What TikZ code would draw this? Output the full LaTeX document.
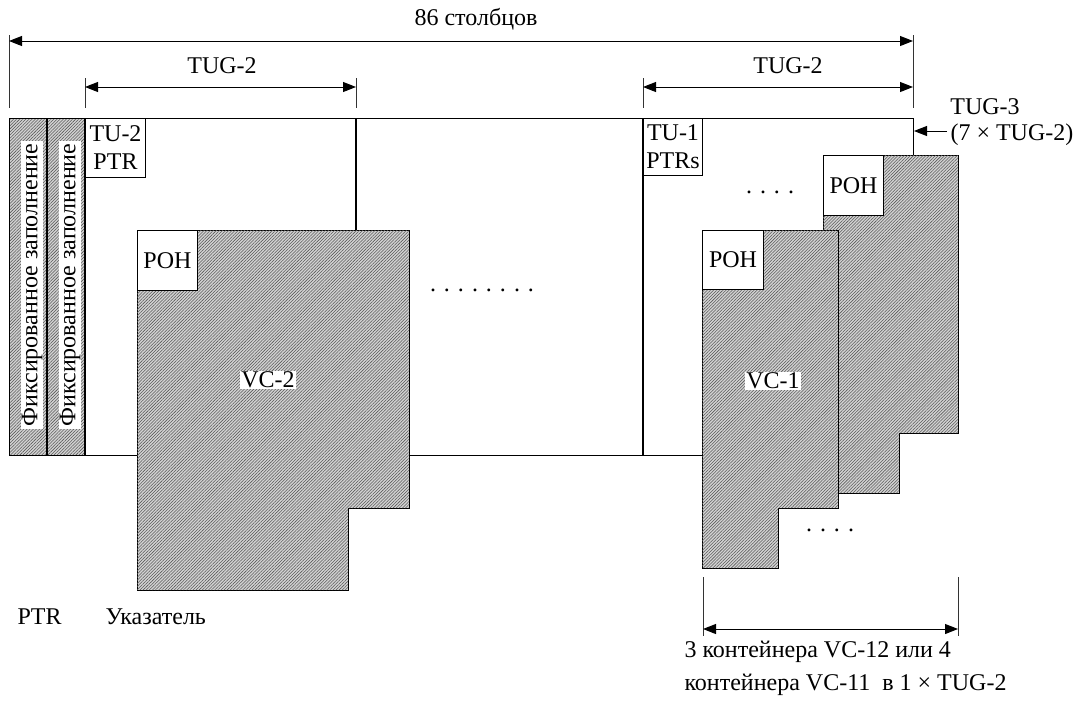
\documentclass[tikz,border=0pt]{standalone}
\usepackage{fontspec}
\setmainfont{Liberation Serif}
\usetikzlibrary{arrows.meta,patterns.meta}
\newcommand{\picfont}{\fontsize{24}{28}\selectfont}
\tikzset{
  hatch/.style={fill=gray!35, postaction={pattern={Lines[angle=45,distance=2.2pt,line width=0.55pt]}, pattern color=black!65}},
  divider/.style={line width=2pt},
  tick/.style={line width=0.8pt, gray!40!black},
  dim/.style={{Triangle[length=13pt,width=10pt]}-{Triangle[length=13pt,width=10pt]}, line width=1pt},
  arr/.style={-{Triangle[length=13pt,width=10pt]}, line width=1pt}
}
\begin{document}
\begin{tikzpicture}[x=1pt,y=-1pt,line width=1pt,every node/.style={font=\picfont}]
    \useasboundingbox (0,0) rectangle (1082,702);
    % fixed stuff columns
    \path[hatch] (9,118) rectangle (47,455);
    \path[hatch] (47,118) rectangle (85,455);
    \draw (702,455) -- (9,455) -- (9,118) -- (913,118) -- (913,155);
    \draw[divider] (47,118) -- (47,455);
    \draw[divider] (85,118) -- (85,455);
    \draw[divider] (356,118) -- (356,230);
    \draw[divider] (643,118) -- (643,455);
    \begin{scope}[every node/.style={font=\picfont,fill=white,rotate=90,inner xsep=3pt,inner ysep=1pt}]
        \node (fix1) at (32,285) {Фиксированное заполнение};
        \node (fix2) at (70,285) {Фиксированное заполнение};
    \end{scope}
    % containers
    \draw[hatch] (823,155) -- (958,155) -- (958,433) -- (899,433) -- (899,493) -- (823,493) -- cycle;
    \draw[hatch] (702,230) -- (838,230) -- (838,508) -- (778,508) -- (778,568) -- (702,568) -- cycle;
    \draw[hatch] (137,230) -- (409,230) -- (409,508) -- (348,508) -- (348,590) -- (137,590) -- cycle;
    \begin{scope}[every node/.style={font=\picfont,draw,fill=white,anchor=north west,align=center,inner sep=0pt}]
        \node[minimum width=60pt,minimum height=59pt] (tu2) at (85,118) {TU-2\\PTR};
        \node[minimum width=59pt,minimum height=57pt] (tu1) at (643,118) {TU-1\\PTRs};
        \node[minimum width=60pt,minimum height=60pt] (poh2) at (137,230) {POH};
        \node[minimum width=60pt,minimum height=60pt] (pohb) at (823,155) {POH};
        \node[minimum width=61pt,minimum height=59pt] (pohf) at (702,230) {POH};
    \end{scope}
    \begin{scope}[every node/.style={font=\picfont,fill=white,inner sep=1pt}]
        \node (vc2) at (268,380) {VC-2};
        \node (vc1) at (773,381) {VC-1};
    \end{scope}
    \node (dotsm) at (482,290) {. . . . . . . .};
    \node (dotsu) at (770,192) {. . . .};
    \node (dotsl) at (830,530) {. . . .};
    % dimensions
    \draw[tick] (9,35) -- (9,108);
    \draw[tick] (913,35) -- (913,108);
    \draw[tick] (85,78) -- (85,108);
    \draw[tick] (356,78) -- (356,108);
    \draw[tick] (643,78) -- (643,108);
    \draw[tick] (703,577) -- (703,636);
    \draw[tick] (958,577) -- (958,636);
    \coordinate (c86l) at (9,41);
    \coordinate (c86r) at (913,41);
    \coordinate (tug2la) at (85,87);
    \coordinate (tug2lb) at (356,87);
    \coordinate (tug2ra) at (643,87);
    \coordinate (tug2rb) at (913,87);
    \coordinate (vcla) at (703,629);
    \coordinate (vclb) at (958,629);
    \coordinate (tug3tail) at (947,131);
    \coordinate (tug3tip) at (914,131);
    \draw[dim] (c86l) -- (c86r);
    \draw[dim] (tug2la) -- (tug2lb);
    \draw[dim] (tug2ra) -- (tug2rb);
    \draw[dim] (vcla) -- (vclb);
    \draw[arr] (tug3tail) -- (tug3tip);
    \begin{scope}[every node/.style={font=\picfont,anchor=base,inner sep=0pt}]
        \node (cols) at (476,25) {86 столбцов};
        \node (tug2l) at (222,73) {TUG-2};
        \node (tug2r) at (788,73) {TUG-2};
        \node (tug3) at (985,114) {TUG-3};
        \node[anchor=base west] (tug3n) at (950,140) {(7 × TUG-2)};
        \node[anchor=base west] (ptr) at (17,624) {PTR};
        \node[anchor=base west] (ptrtxt) at (105,624) {Указатель};
        \node[anchor=base west] (vcnote1) at (684,657) {3 контейнера VC-12 или 4};
        \node[anchor=base west] (vcnote2) at (684,690) {контейнера VC-11\ \ в 1 × TUG-2};
    \end{scope}
\end{tikzpicture}
\end{document}
